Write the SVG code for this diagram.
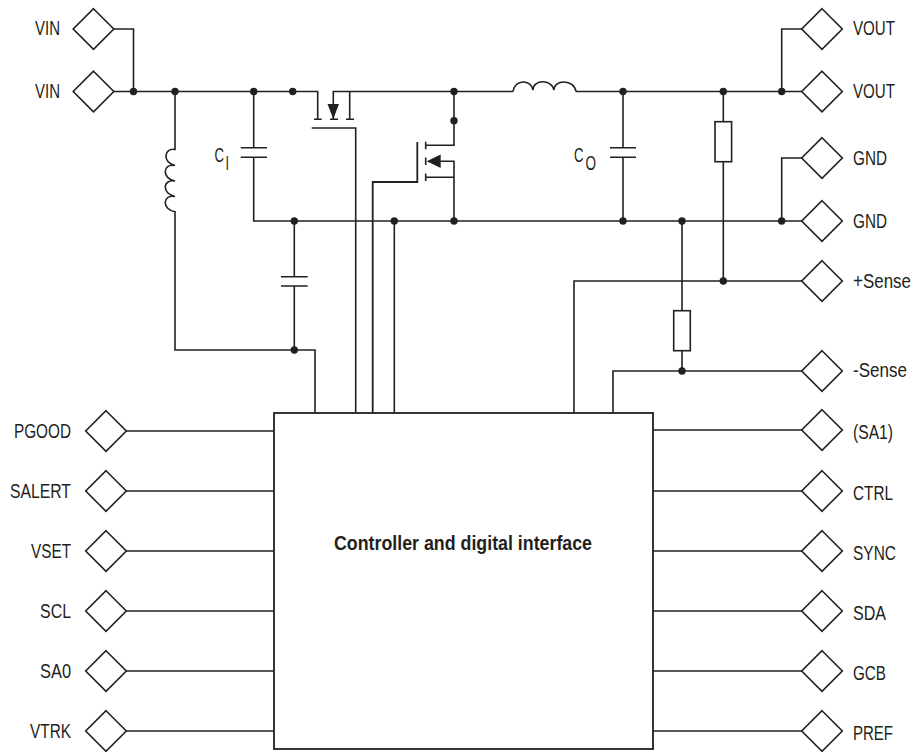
<svg xmlns="http://www.w3.org/2000/svg" width="912" height="752" viewBox="0 0 912 752">
<style>
.w{fill:none;stroke:#231f20;stroke-width:1.6}
.b{fill:none;stroke:#231f20;stroke-width:1.8}
.d{fill:#fff;stroke:#231f20;stroke-width:1.6}
.j{fill:#231f20}
text{font-family:"Liberation Sans",Arial,sans-serif;font-size:20.500px;fill:#231f20}
.c{font-weight:bold;font-size:19.500px}
</style>
<defs>
<path id="dm" class="d" d="M0 -20.300L20.300 0L0 20.300L-20.300 0Z"/>
<circle id="dot" class="j" r="3.700"/>
</defs>
<rect width="912" height="752" fill="#fff"/>
<g id="connectors">
<path class="w" d="M113.500 29H133.500V91.500M113.500 91.500H317.700V119M333.300 119V91.500H513M576 91.500H802M349.700 91.500V119M314 119.300H321.700M330 119.300H338M346 119.300H354"/>
<path class="w" d="M513 91.500C515 79 531 79 533 90C533 79 552 79 554 90C554 79 574 79 576 91.500"/>
<path class="w" d="M311.700 128H355.700V413"/>
<path class="w" d="M454 91.500V145.300H425.700M425.700 141.700V149.300M425.700 157.500V165.100M425.700 173.500V181.100M440 161.300H454V221M425.700 177.300H454"/>
<path class="b" d="M417.300 142V182H372.700V413"/>
<path class="j" d="M327.500 104H339L333.300 119ZM426.700 161.300L440.700 154.500V168Z"/>
<path class="w" d="M175 91.500V149.500C164 147 162 163 175 165.500C162 163 162 179 175 181C162 179 162 194 175 196.500C162 194 162 210 175 211.700V350H315V413"/>
<path class="w" d="M253.700 91.500V147.700M240.700 147.700H267M240.700 157.300H267M253.700 157.300V221H802"/>
<path class="w" d="M294.300 221V276.700M281 276.700H307.700M281 286H307.700M294.300 286V350"/>
<path class="w" d="M394.300 221V413"/>
<path class="w" d="M623 91.500V147.700M610 147.700H636M610 157.300H636M623 157.300V221"/>
<path class="w" d="M723.300 91.500V121.700M723.300 161.700V281M574 413V281H802"/>
<rect class="w" x="715" y="121.700" width="16.600" height="40"/>
<path class="w" d="M682 221V310.700M682 350.700V371M613 413V371H802"/>
<rect class="w" x="673.700" y="310.700" width="16.600" height="40"/>
<path class="w" d="M781.700 91.500V29H802M781.700 221V158H802"/>
<path class="w" d="M126 431H274M126 491H274M126 551H274M126 611H274M126 671H274M126 731H274M653 430H802M653 491H802M653 551H802M653 611H802M653 671H802M653 731H802"/>
<g id="junctions">
<use href="#dot" x="133.500" y="91.500"/><use href="#dot" x="175" y="91.500"/><use href="#dot" x="253.700" y="91.500"/><use href="#dot" x="292.700" y="91.500"/><use href="#dot" x="454" y="91.500"/><use href="#dot" x="454" y="120.700"/><use href="#dot" x="454" y="221"/><use href="#dot" x="294.300" y="221"/><use href="#dot" x="394.300" y="221"/><use href="#dot" x="294.300" y="350"/><use href="#dot" x="623" y="91.500"/><use href="#dot" x="623" y="221"/><use href="#dot" x="682" y="221"/><use href="#dot" x="723.300" y="91.500"/><use href="#dot" x="781.700" y="91.500"/><use href="#dot" x="781.700" y="221"/><use href="#dot" x="723.300" y="281"/><use href="#dot" x="682" y="371"/>
</g>
</g>
<g id="controller"><rect class="b" x="274" y="413" width="379" height="336" fill="none"/><text class="c" x="334" y="550" textLength="258" lengthAdjust="spacingAndGlyphs">Controller and digital interface</text></g>
<g id="cap-ci"><text transform="translate(214.500 162) scale(.642 1)">C</text><text transform="translate(225.500 170) scale(.614 1)">I</text></g>
<g id="cap-co"><text transform="translate(574 162) scale(.642 1)">C</text><text transform="translate(585.500 170) scale(.66 1)">O</text></g>
<g id="p-vin1"><use href="#dm" x="93.500" y="29"/><text x="35" y="35" textLength="25" lengthAdjust="spacingAndGlyphs">VIN</text></g>
<g id="p-vin2"><use href="#dm" x="93.500" y="91.500"/><text x="35" y="98" textLength="25" lengthAdjust="spacingAndGlyphs">VIN</text></g>
<g id="p-pgood"><use href="#dm" x="106" y="431"/><text x="14" y="438" textLength="57" lengthAdjust="spacingAndGlyphs">PGOOD</text></g>
<g id="p-salert"><use href="#dm" x="106" y="491"/><text x="10" y="498" textLength="61" lengthAdjust="spacingAndGlyphs">SALERT</text></g>
<g id="p-vset"><use href="#dm" x="106" y="551"/><text x="31" y="558" textLength="40" lengthAdjust="spacingAndGlyphs">VSET</text></g>
<g id="p-scl"><use href="#dm" x="106" y="611"/><text x="40" y="618" textLength="31" lengthAdjust="spacingAndGlyphs">SCL</text></g>
<g id="p-sa0"><use href="#dm" x="106" y="671"/><text x="40" y="678" textLength="31" lengthAdjust="spacingAndGlyphs">SA0</text></g>
<g id="p-vtrk"><use href="#dm" x="106" y="731"/><text x="30" y="738" textLength="41" lengthAdjust="spacingAndGlyphs">VTRK</text></g>
<g id="p-vout1"><use href="#dm" x="822" y="29"/><text x="853" y="35" textLength="42" lengthAdjust="spacingAndGlyphs">VOUT</text></g>
<g id="p-vout2"><use href="#dm" x="822" y="91.500"/><text x="853" y="98" textLength="42" lengthAdjust="spacingAndGlyphs">VOUT</text></g>
<g id="p-gnd1"><use href="#dm" x="822" y="158"/><text x="853" y="165" textLength="34" lengthAdjust="spacingAndGlyphs">GND</text></g>
<g id="p-gnd2"><use href="#dm" x="822" y="221"/><text x="853" y="228" textLength="34" lengthAdjust="spacingAndGlyphs">GND</text></g>
<g id="p-sensep"><use href="#dm" x="822" y="281"/><text transform="translate(853 288) scale(.828 1)">+Sense</text></g>
<g id="p-sensem"><use href="#dm" x="822" y="371"/><text transform="translate(853 377) scale(.831 1)">-Sense</text></g>
<g id="p-sa1"><use href="#dm" x="822" y="430"/><text x="853" y="439" textLength="40" lengthAdjust="spacingAndGlyphs">(SA1)</text></g>
<g id="p-ctrl"><use href="#dm" x="822" y="491"/><text x="853" y="500" textLength="40" lengthAdjust="spacingAndGlyphs">CTRL</text></g>
<g id="p-sync"><use href="#dm" x="822" y="551"/><text x="853" y="560" textLength="43" lengthAdjust="spacingAndGlyphs">SYNC</text></g>
<g id="p-sda"><use href="#dm" x="822" y="611"/><text x="853" y="620" textLength="33" lengthAdjust="spacingAndGlyphs">SDA</text></g>
<g id="p-gcb"><use href="#dm" x="822" y="671"/><text x="853" y="680" textLength="33" lengthAdjust="spacingAndGlyphs">GCB</text></g>
<g id="p-pref"><use href="#dm" x="822" y="731"/><text x="853" y="740" textLength="40" lengthAdjust="spacingAndGlyphs">PREF</text></g>
</svg>
